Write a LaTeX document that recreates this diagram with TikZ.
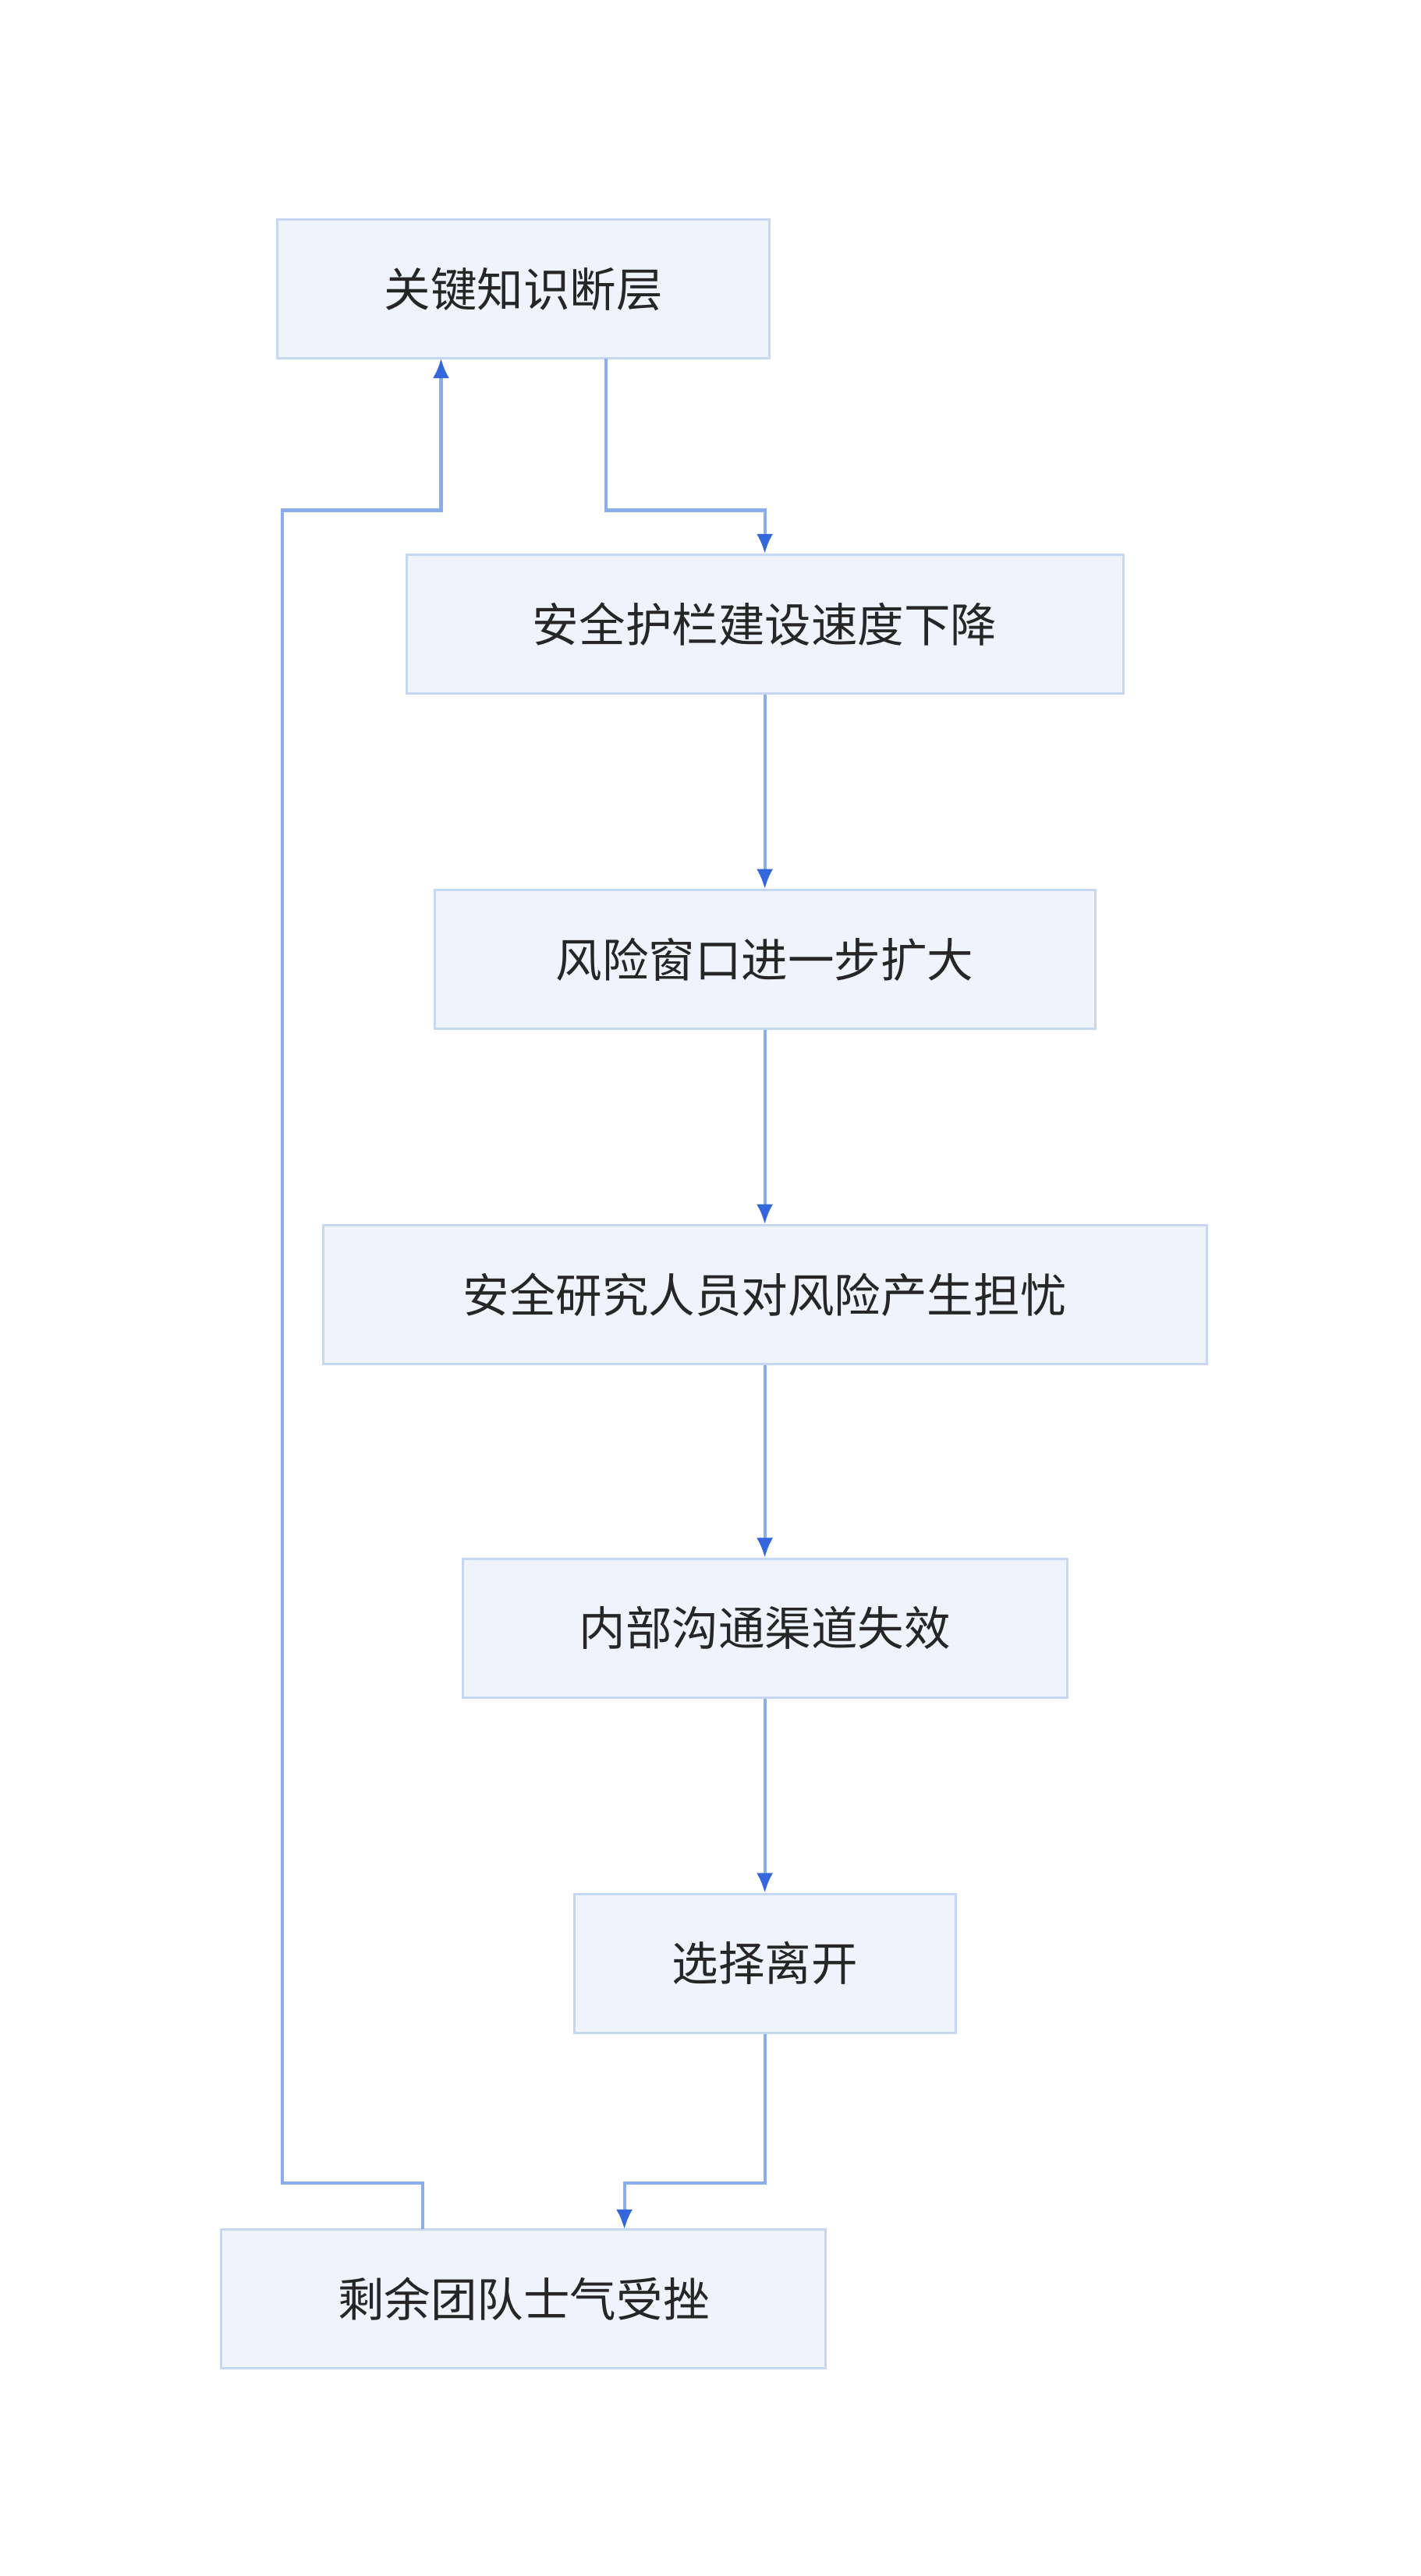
\documentclass[tikz,border=0pt]{standalone}
\usepackage{fontspec}
\newfontfamily\cjk{Noto Sans CJK SC}
\usetikzlibrary{arrows.meta}
\definecolor{boxfill}{HTML}{EFF4FC}
\definecolor{boxline}{HTML}{C6D7F2}
\definecolor{edgeline}{HTML}{8AADEB}
\definecolor{tipblue}{HTML}{3467DB}
\begin{document}
\begin{tikzpicture}[x=0.02cm, y=-0.02cm,
    box/.style = {draw = boxline, fill = boxfill, line width = 0.8pt, inner sep = 0pt,
                  minimum height = 1.68cm, font = \cjk\fontsize{16}{19}\selectfont, text = black!85},
    arr/.style = {draw = edgeline, line width = 1.1pt,
                  -{Latex[length = 0.24cm, width = 0.2cm, color = tipblue]}}]
    \useasboundingbox (0, 0) rectangle (860, 1560);
    \node[box, minimum width = 5.96cm] (Gap) at (317, 175) {关键知识断层};
    \node[box, minimum width = 8.68cm] (Guard) at (463, 378) {安全护栏建设速度下降};
    \node[box, minimum width = 8.00cm] (Window) at (463, 581) {风险窗口进一步扩大};
    \node[box, minimum width = 10.70cm] (Worry) at (463, 784) {安全研究人员对风险产生担忧};
    \node[box, minimum width = 7.32cm] (Channel) at (463, 986) {内部沟通渠道失效};
    \node[box, minimum width = 4.62cm] (Leave) at (463, 1189) {选择离开};
    \node[box, minimum width = 7.32cm] (Morale) at (317, 1392) {剩余团队士气受挫};
    \coordinate (Gap out) at (367, 217);
    \coordinate (Leave in) at (378, 1350);
    \coordinate (Morale out) at (256, 1350);
    \coordinate (Gap in) at (267, 217);
    \draw[arr] (Gap out) -- (367, 309) -- (463, 309) -- (Guard.north);
    \draw[arr] (Guard) -- (Window);
    \draw[arr] (Window) -- (Worry);
    \draw[arr] (Worry) -- (Channel);
    \draw[arr] (Channel) -- (Leave);
    \draw[arr] (Leave.south) -- (463, 1322) -- (378, 1322) -- (Leave in);
    \draw[arr] (Morale out) -- (256, 1322) -- (171, 1322) -- (171, 309) -- (267, 309) -- (Gap in);
\end{tikzpicture}
\end{document}
